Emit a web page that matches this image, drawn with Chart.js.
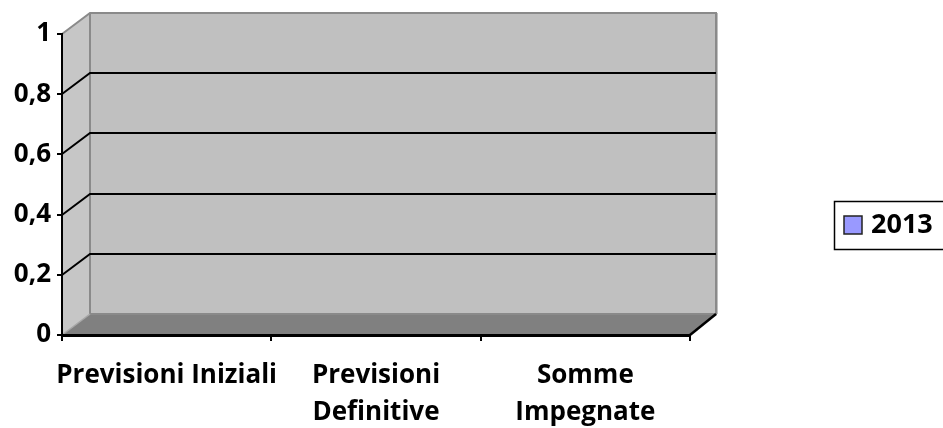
<!DOCTYPE html>
<html>
<head>
<meta charset="utf-8">
<script src="https://cdn.jsdelivr.net/npm/chart.js@4/dist/chart.umd.min.js"></script>
<style>
  html, body { margin: 0; padding: 0; background: #fff; }
  canvas { display: block; }
</style>
</head>
<body>
<canvas id="c" width="943" height="428"></canvas>
<script>
// Categories and series
const categories = [["Previsioni Iniziali"], ["Previsioni", "Definitive"], ["Somme", "Impegnate"]];
const seriesLabel = "2013";
const seriesValues = [0, 0, 0];
const yTicks = [0, 0.2, 0.4, 0.6, 0.8, 1];

const FONT = "'Open Sans'";
const DEPTH_X = 28, DEPTH_Y = 21;   // 3D depth of the walls

// Draws the 3D box: left side wall, back wall, floor and the wall gridlines
const wallsPlugin = {
  id: "walls",
  beforeDraw(chart) {
    const ctx = chart.ctx;
    const a = chart.chartArea;
    const y = chart.scales.y;
    const L = a.left, R = a.right, T = a.top, B = a.bottom;
    ctx.save();
    // side wall
    ctx.beginPath();
    ctx.moveTo(L, T); ctx.lineTo(L + DEPTH_X, T - DEPTH_Y);
    ctx.lineTo(L + DEPTH_X, B - DEPTH_Y); ctx.lineTo(L, B); ctx.closePath();
    ctx.fillStyle = "#c6c6c6"; ctx.fill();
    // back wall
    ctx.fillStyle = "#c0c0c0";
    ctx.fillRect(L + DEPTH_X, T - DEPTH_Y, R - L, B - T);
    // floor
    ctx.beginPath();
    ctx.moveTo(L, B); ctx.lineTo(L + DEPTH_X, B - DEPTH_Y);
    ctx.lineTo(R + DEPTH_X - 2, B - DEPTH_Y); ctx.lineTo(R, B); ctx.closePath();
    ctx.fillStyle = "#808080"; ctx.fill();

    // wall outlines
    ctx.strokeStyle = "#8a8a8a"; ctx.lineWidth = 2;
    ctx.beginPath();
    ctx.moveTo(L, T); ctx.lineTo(L + DEPTH_X, T - DEPTH_Y);
    ctx.lineTo(R + DEPTH_X - 2, T - DEPTH_Y); ctx.lineTo(R + DEPTH_X - 2, B - DEPTH_Y);
    ctx.lineTo(L + DEPTH_X, B - DEPTH_Y); ctx.lineTo(L + DEPTH_X, T - DEPTH_Y);
    ctx.stroke();
    ctx.strokeStyle = "#a8a8a8"; ctx.lineWidth = 1.5;
    ctx.beginPath();
    ctx.moveTo(L, B); ctx.lineTo(L + DEPTH_X, B - DEPTH_Y);
    ctx.stroke();

    // gridlines on side and back walls
    ctx.strokeStyle = "#000"; ctx.lineWidth = 2;
    yTicks.forEach(v => {
      if (v <= 0 || v >= 1) return;
      const py = Math.round(y.getPixelForValue(v));
      ctx.beginPath();
      ctx.moveTo(L, py); ctx.lineTo(L + DEPTH_X, py - DEPTH_Y);
      ctx.lineTo(R + DEPTH_X - 2, py - DEPTH_Y);
      ctx.stroke();
    });

    // right edge of the floor
    ctx.strokeStyle = "#000"; ctx.lineWidth = 2.5;
    ctx.beginPath();
    ctx.moveTo(R, B); ctx.lineTo(R + DEPTH_X - 2, B - DEPTH_Y);
    ctx.stroke();
    ctx.restore();
  },
  afterDraw(chart) {
    // boxed legend at the right
    const ctx = chart.ctx;
    const ds = chart.data.datasets[0];
    ctx.save();
    ctx.strokeStyle = "#000"; ctx.lineWidth = 1.5;
    ctx.strokeRect(834.5, 201.5, 120, 48);
    ctx.fillStyle = ds.backgroundColor;
    ctx.fillRect(844, 216, 18, 18);
    ctx.strokeStyle = "#222"; ctx.lineWidth = 1.5;
    ctx.strokeRect(844, 216, 18, 18);
    ctx.fillStyle = "#000";
    ctx.font = "bold 27px " + FONT;
    ctx.textBaseline = "middle";
    ctx.fillText(ds.label, 871, 225);
    ctx.restore();
  }
};

new Chart(document.getElementById("c"), {
  type: "bar",
  data: {
    labels: categories,
    datasets: [{
      label: seriesLabel,
      data: seriesValues,
      backgroundColor: "#9999ff",
      borderColor: "#000",
      borderWidth: 0
    }]
  },
  options: {
    responsive: false,
    animation: false,
    layout: { padding: { top: 34, right: 253, bottom: 0, left: 0 } },
    plugins: { legend: { display: false }, tooltip: { enabled: false } },
    scales: {
      x: {
        offset: true,
        grid: { display: true, drawOnChartArea: false, drawTicks: true, tickLength: 6, color: "#000", lineWidth: 2, offset: true },
        border: { display: true, color: "#000", width: 3 },
        ticks: {
          color: "#000", padding: 16, maxRotation: 0, autoSkip: false,
          font: { family: FONT, size: 26, weight: "bold", lineHeight: 1.42 }
        },
        afterFit(scale) { scale.height = 93; }
      },
      y: {
        min: 0, max: 1,
        afterBuildTicks(scale) { scale.ticks = yTicks.map(v => ({ value: v })); },
        grid: { display: true, drawOnChartArea: false, drawTicks: true, tickLength: 5, color: "#000", lineWidth: 2 },
        border: { display: true, color: "#000", width: 2 },
        ticks: {
          color: "#000", padding: 6,
          font: { family: FONT, size: 26, weight: "bold" },
          callback: v => String(v).replace(".", ",")
        },
        afterFit(scale) { scale.width = 62; }
      }
    }
  },
  plugins: [wallsPlugin]
});
</script>
</body>
</html>
